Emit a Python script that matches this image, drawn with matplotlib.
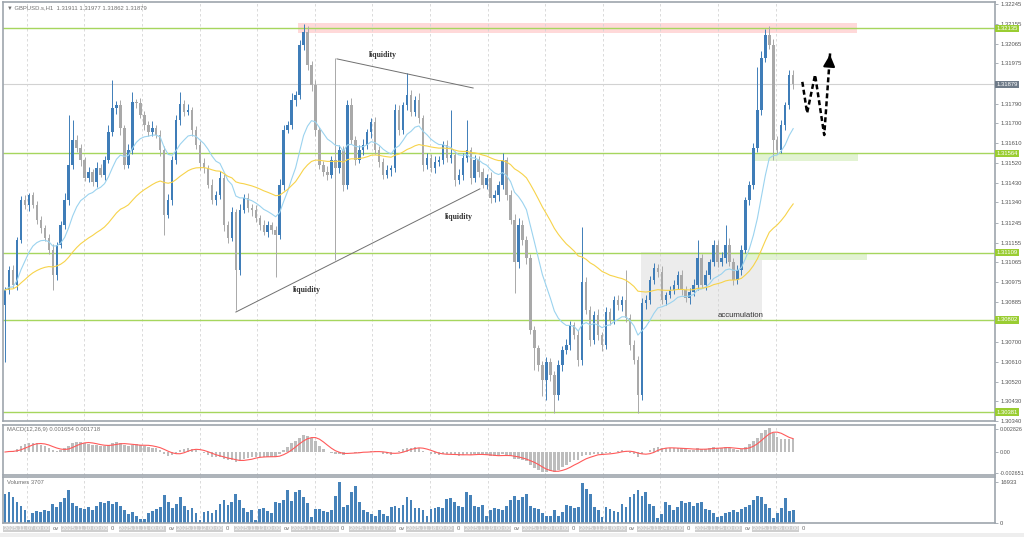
import matplotlib.pyplot as plt
import numpy as np
import pandas as pd
from matplotlib.patches import Rectangle
from matplotlib.transforms import blended_transform_factory

# GBPUSD.s H1 -- closes in points above 1.30000 (one candle per bar)
close_pts = [
    939, 1030, 962, 1168, 1350, 1327, 1373, 1327, 1259, 1222,
    1177, 1122, 1008, 1145, 1236, 1350, 1510, 1625, 1588, 1533,
    1451, 1478, 1433, 1497, 1465, 1533, 1661, 1771, 1784, 1679,
    1510, 1579, 1798, 1794, 1739, 1693, 1661, 1679, 1647, 1579,
    1282, 1350, 1533, 1716, 1789, 1752, 1762, 1670, 1602, 1519,
    1497, 1419, 1350, 1373, 1451, 1236, 1177, 1295, 1030, 1305,
    1359, 1314, 1305, 1268, 1236, 1204, 1236, 1213, 1190, 1419,
    1670, 1693, 1807, 1830, 2059, 2118, 1967, 1876, 1670, 1510,
    1478, 1465, 1533, 1497, 1579, 1419, 1784, 1625, 1533, 1579,
    1602, 1661, 1707, 1579, 1524, 1465, 1487, 1497, 1762, 1670,
    1784, 1830, 1752, 1807, 1725, 1510, 1542, 1497, 1524, 1533,
    1602, 1542, 1556, 1442, 1465, 1542, 1579, 1451, 1533, 1478,
    1419, 1451, 1359, 1373, 1419, 1533, 1373, 1259, 1067, 1236,
    1168, 1085, 756, 674, 596, 528, 610, 551, 459, 596,
    665, 688, 779, 733, 619, 975, 848, 711, 825, 733,
    688, 838, 802, 893, 870, 893, 811, 688, 619, 459,
    880, 893, 985, 1040, 1021, 893, 916, 939, 962, 1008,
    939, 902, 930, 962, 1085, 962, 1008, 1067, 1145, 1067,
    1085, 1145, 1067, 985, 1031, 1122, 1350, 1419, 1588, 1762,
    2000, 2104, 2059, 1625, 1579, 1693, 1784, 1922, 1879,
]
open_first = 870

wick_up = [
    12, 20, 25, 15, 18, 22, 10, 14, 20, 16, 12, 18, 25, 14, 20, 30, 20, 20, 22, 18,
    15, 24, 12, 28, 16, 20, 30, 20, 18, 22, 14, 26, 20, 12, 24, 18, 16, 30, 14, 22,
    18, 26, 20, 24, 20, 16, 28, 14, 20, 18, 22, 12, 26, 18, 30, 16, 20, 24, 14, 28,
    18, 22, 16, 20, 14, 24, 18, 12, 20, 26, 22, 18, 30, 16, 24, 20, 28, 18, 22, 14,
    20, 26, 18, 20, 24, 16, 20, 30, 18, 22, 26, 14, 20, 24, 16, 18, 22, 12, 28, 20,
    16, 20, 24, 18, 30, 14, 22, 18, 26, 20, 16, 24, 20, 18, 28, 22, 20, 14, 24, 18,
    20, 16, 26, 22, 18, 20, 14, 24, 28, 30, 22, 18, 16, 20, 14, 18, 24, 20, 16, 22,
    18, 26, 20, 14, 22, 30, 24, 18, 20, 26, 16, 22, 18, 20, 24, 20, 28, 16, 22, 18,
    20, 24, 16, 22, 18, 26, 14, 20, 24, 18, 22, 16, 20, 28, 20, 18, 24, 14, 22, 20,
    26, 18, 30, 20, 24, 22, 16, 20, 24, 20, 30, 28, 20, 26, 18, 22, 16, 24, 20,
]
wick_dn = [
    20, 18, 14, 24, 16, 20, 26, 12, 18, 22, 16, 20, 20, 24, 14, 18, 22, 16, 20, 26,
    14, 20, 18, 24, 12, 22, 16, 20, 26, 30, 18, 14, 20, 22, 16, 24, 18, 20, 14, 28,
    20, 16, 22, 18, 24, 20, 14, 26, 18, 30, 22, 16, 20, 24, 18, 28, 22, 16, 20, 24,
    14, 20, 26, 18, 22, 16, 24, 20, 20, 18, 24, 16, 20, 28, 18, 22, 24, 30, 26, 20,
    18, 24, 16, 20, 22, 28, 18, 20, 24, 16, 22, 18, 26, 20, 24, 18, 16, 28, 20, 22,
    18, 24, 20, 16, 22, 26, 18, 20, 24, 18, 20, 16, 22, 28, 18, 24, 20, 26, 18, 22,
    16, 20, 24, 18, 26, 20, 22, 18, 20, 30, 24, 28, 20, 20, 26, 20, 22, 30, 20, 24,
    26, 18, 22, 20, 28, 24, 20, 26, 18, 22, 30, 20, 24, 18, 22, 26, 20, 24, 18, 20,
    22, 26, 18, 20, 24, 18, 22, 16, 20, 20, 24, 18, 26, 20, 22, 16, 24, 20, 18, 22,
    20, 24, 18, 22, 20, 26, 16, 22, 20, 18, 24, 20, 18, 22, 20, 16, 24, 18, 20,
]
# long shadows (absolute, points above 1.30000)
spike_hi = {16: 1739, 17: 1716, 27: 1899, 32: 1844, 44: 1844, 75: 2155, 83: 1999,
            86: 1807, 101: 1931, 112: 1762, 116: 1716, 125: 1565, 145: 1227,
            156: 1031, 174: 1168, 181: 1236, 189: 1958, 192: 2145}
spike_lo = {0: 610, 12: 939, 40: 1191, 58: 848, 68: 999, 83: 1076, 128: 925,
            133: 573, 135: 455, 136: 436, 138: 377, 159: 377, 193: 1533}

volume = [
    11800, 12600, 10500, 8400, 6700, 5000, 900, 3800, 4600, 4200,
    5000, 4600, 7600, 6300, 8400, 10100, 13400, 8000, 6700, 5900,
    5500, 6300, 5000, 6700, 8400, 8000, 8800, 7600, 8400, 6700,
    5000, 3400, 4200, 2500, 1300, 1300, 3800, 4600, 5500, 6300,
    11300, 8400, 5900, 7600, 10500, 6700, 5000, 5900, 3800, 900,
    4200, 4600, 3800, 5000, 7600, 9200, 7100, 8400, 11800, 9200,
    5900, 4200, 5000, 900, 5500, 5900, 4600, 3800, 8400, 8000,
    9200, 13400, 8800, 12600, 13400, 10500, 8000, 2100, 5500, 5500,
    4600, 4200, 5000, 10900, 16900, 6300, 7100, 12600, 15100, 8400,
    5000, 4200, 3400, 2500, 5000, 3400, 2900, 6300, 6700, 5900,
    7100, 10500, 9200, 5900, 5900, 5000, 2500, 5500, 5900, 6300,
    5900, 9700, 10100, 8400, 6700, 6300, 12600, 11300, 6700, 6300,
    7100, 2500, 5000, 5900, 5500, 5000, 6700, 9200, 10900, 9200,
    10500, 11800, 6700, 5900, 5500, 3800, 2900, 2500, 5000, 2900,
    4200, 7100, 6700, 5900, 6300, 16500, 13900, 11800, 6300, 5000,
    2100, 6300, 5500, 4600, 4200, 7600, 6300, 10500, 11800, 13400,
    10900, 12600, 7600, 6700, 1700, 3400, 8400, 7100, 5000, 6300,
    8800, 8000, 8400, 6700, 8000, 8400, 5500, 5000, 3800, 2100,
    2900, 3800, 4200, 5000, 4200, 5500, 6300, 7100, 9200, 10900,
    10500, 7600, 5900, 1700, 3800, 5900, 10100, 4600, 5000,
]

levels = [1.32135, 1.31564, 1.31109, 1.30802, 1.30381]
last_price = 1.31879
price_ticks = [1.32245, 1.32155, 1.32065, 1.31975, 1.31790, 1.31700, 1.31610,
               1.31520, 1.31430, 1.31340, 1.31245, 1.31155, 1.31065, 1.30975,
               1.30885, 1.30700, 1.30610, 1.30520, 1.30430, 1.30340]
day_labels = ["2025.11.07 00:00", "2025.11.10 00:00", "2025.11.11 00:00",
              "2025.11.12 00:00", "2025.11.13 00:00", "2025.11.14 00:00",
              "2025.11.17 00:00", "2025.11.18 00:00", "2025.11.19 00:00",
              "2025.11.20 00:00", "2025.11.21 00:00", "2025.11.24 00:00",
              "2025.11.25 00:00", "2025.11.26 00:00"]
first_day_bar = 5.5
bars_per_day = 14.47

# drawings on the chart (bar index, price)
zones = [(73.6, 214.1, 1.32112, 1.32158, "#ffd9d9"),
         (159.8, 190.2, 1.30802, 1.31113, "#ececec"),
         (188.4, 214.3, 1.31529, 1.31565, "#e2f3d2"),
         (185.4, 216.6, 1.31076, 1.31108, "#e2f3d2")]
trend_lines = [((83.4, 1.31995), (117.6, 1.31862)),
               ((58.0, 1.30838), (119.3, 1.31401))]
notes = [("liquidity", 95.0, 1.32013), ("liquidity", 114.1, 1.31273),
         ("liquidity", 75.9, 1.30939)]
arrow_path = [(200.3, 1.31890), (201.5, 1.31748), (203.5, 1.31922),
              (205.8, 1.31647), (207.3, 1.32027)]

plt.rcParams["font.family"] = ["Liberation Sans", "DejaVu Sans"]
fs = 4.2

close = 1.3 + np.array(close_pts) / 1e5
open_ = np.r_[1.3 + open_first / 1e5, close[:-1]]
high = np.maximum(open_, close) + np.array(wick_up) / 1e5
low = np.minimum(open_, close) - np.array(wick_dn) / 1e5
for k, v in spike_hi.items():
    high[k] = 1.3 + v / 1e5
for k, v in spike_lo.items():
    low[k] = 1.3 + v / 1e5
x = np.arange(len(close))
up = close >= open_
bull, bear = "#3f7db8", "#a9a9a9"
cols = np.where(up, bull, bear)

s = pd.Series(close)
ma_fast = s.ewm(span=14, adjust=False).mean()
ma_slow = s.ewm(span=45, adjust=False).mean()
macd = s.ewm(span=7, adjust=False).mean() - s.ewm(span=16, adjust=False).mean()
signal = macd.rolling(5, min_periods=1).mean()

W, H = 1024, 537
fig = plt.figure(figsize=(W / 100, H / 100), dpi=100, facecolor="white")
ax = fig.add_axes([3 / W, 1 - 421 / H, 992 / W, 419 / H])
axm = fig.add_axes([3 / W, 1 - 475 / H, 992 / W, 50 / H], sharex=ax)
axv = fig.add_axes([3 / W, 1 - 523 / H, 992 / W, 46 / H], sharex=ax)
fig.patches.append(Rectangle((0, 0), 1, 4 / H, transform=fig.transFigure,
                             fc="#eeeeee", ec="none", zorder=-5))

day_pos = first_day_bar + bars_per_day * np.arange(len(day_labels))
for a in (ax, axm, axv):
    for sp in a.spines.values():
        sp.set_color("#9ea5ad")
        sp.set_linewidth(1.2)
    a.yaxis.tick_right()
    a.tick_params(axis="y", labelsize=fs, colors="#9ea5ad", labelcolor="#555555",
                  length=2.5, pad=1.2, width=0.6)
    a.set_xticks(day_pos)
    a.grid(axis="x", color="#d4d4d4", lw=0.6, ls=(0, (3, 3)))
    a.set_axisbelow(True)
ax.tick_params(axis="x", length=0, labelbottom=False)
axm.tick_params(axis="x", length=0, labelbottom=False)

# zones and levels
for x0, x1, p0, p1, c in zones:
    ax.add_patch(Rectangle((x0, p0), x1 - x0, p1 - p0, fc=c, ec="none", zorder=0.5))
for lv in levels:
    ax.axhline(lv, color="#a6d65e", lw=1.0, zorder=1)
ax.axhline(last_price, color="#d2d2d2", lw=0.8, zorder=0.8)

# candles
ax.vlines(x, low, high, colors=cols, lw=0.7, zorder=2)
body = np.maximum(np.abs(close - open_), 0.000025)
ax.bar(x, body, bottom=np.minimum(open_, close), width=0.62, color=cols,
       edgecolor="none", zorder=3)
ax.plot(x, ma_fast, color="#9bd3ef", lw=0.8, zorder=4)
ax.plot(x, ma_slow, color="#f7d34a", lw=0.8, zorder=4)

for (xa, ya), (xb, yb) in trend_lines:
    ax.plot([xa, xb], [ya, yb], color="#707070", lw=0.7, zorder=5)
for t, tx, ty in notes:
    ax.text(tx, ty, t, ha="center", va="center", fontsize=5.6, fontweight="bold",
            family=["Liberation Serif", "DejaVu Serif"], color="#333333", zorder=6)
ax.text(184.7, 1.30822, "accumulation", ha="center", va="center", fontsize=5.6,
        color="#333333", zorder=6)

ax_x = [p[0] for p in arrow_path]
ax_y = [p[1] for p in arrow_path]
ax.plot(ax_x, ax_y, color="black", lw=1.8, ls=(0, (2, 1.2)), zorder=7)
tail = (ax_x[-2] + 0.9 * (ax_x[-1] - ax_x[-2]), ax_y[-2] + 0.9 * (ax_y[-1] - ax_y[-2]))
ax.annotate("", xy=arrow_path[-1], xytext=tail,
            arrowprops=dict(arrowstyle="-|>,head_width=0.35,head_length=0.7",
                            color="black", lw=1.5), zorder=8)

ax.set_xlim(-0.5, 248.7)
ax.set_ylim(1.30340, 1.32255)
ax.set_yticks(price_ticks)
ax.set_yticklabels([f"{p:.5f}" for p in price_ticks])
ytr = ax.get_yaxis_transform()
for lv in levels:
    ax.text(1.0015, lv, f"{lv:.5f}", transform=ytr, ha="left", va="center",
            fontsize=fs, color="white", zorder=10, clip_on=False,
            bbox=dict(boxstyle="square,pad=0.2", fc="#9acd32", ec="none"))
ax.text(1.0015, last_price, f"{last_price:.5f}", transform=ytr, ha="left",
        va="center", fontsize=fs, color="white", zorder=10, clip_on=False,
        bbox=dict(boxstyle="square,pad=0.2", fc="#6e7a88", ec="none"))
ax.text(0.004, 0.992, "\u25bc GBPUSD.s,H1  1.31911 1.31977 1.31862 1.31879",
        transform=ax.transAxes, ha="left", va="top", fontsize=fs, color="#707070")

# MACD
axm.bar(x, macd, width=0.62, color="#bdbdbd", edgecolor="none", zorder=2)
axm.plot(x, signal, color="#ff5a5a", lw=0.8, zorder=3)
axm.set_ylim(-0.00286, 0.00336)
axm.set_yticks([0.002826, 0.0, -0.002651])
axm.set_yticklabels(["0.002826", "0.00", "-0.002651"])
axm.tick_params(axis="y", labelsize=3.9, pad=1.0)
axm.text(0.004, 0.95, "MACD(12,26,9) 0.001654 0.001718", transform=axm.transAxes,
         ha="left", va="top", fontsize=fs, color="#707070")

# volumes
axv.bar(x, volume, width=0.7, color="#4682b9", edgecolor="none", zorder=2)
axv.set_ylim(-200, 18880)
axv.set_yticks([16933, 0])
axv.set_yticklabels(["16933", "0"])
axv.text(0.004, 0.93, "Volumes 3707", transform=axv.transAxes, ha="left", va="top",
         fontsize=fs, color="#707070")
axv.set_xticklabels(day_labels)
axv.tick_params(axis="x", length=0, pad=2.5, labelsize=fs, labelcolor="white")
for lbl in axv.get_xticklabels():
    lbl.set_bbox(dict(boxstyle="square,pad=0.15", fc="#cfcfcf", ec="none"))
btr = blended_transform_factory(axv.transData, axv.transAxes)
for i, p in enumerate(day_pos):
    axv.text(p + 6.6, -0.115, "ov" if i % 2 == 0 else "0", transform=btr,
             ha="left", va="center", fontsize=fs, color="#707070", clip_on=False)

fig.savefig("out.png", dpi=100, facecolor="white")
